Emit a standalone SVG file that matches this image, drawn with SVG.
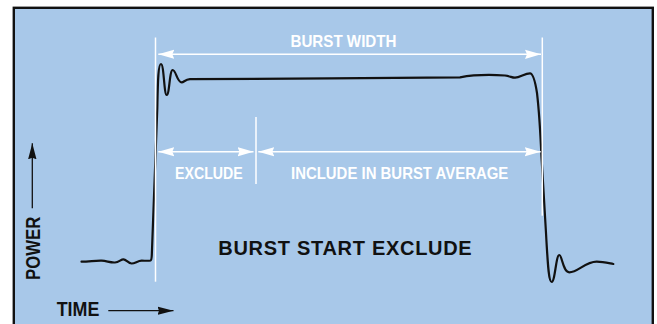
<svg xmlns="http://www.w3.org/2000/svg" width="657" height="324" viewBox="0 0 657 324">
<defs>
<style>
.ext{stroke:#fff;stroke-width:1.5;fill:none}
.dim{stroke:#fff;stroke-width:1.5;fill:none;marker-start:url(#wh);marker-end:url(#wh)}
.ax{stroke:#111;stroke-width:1.3;fill:none;marker-end:url(#bh)}
.wl{font-family:"Liberation Sans",Arial,sans-serif;font-weight:bold;fill:#fff;font-size:16.5px}
.bl{font-family:"Liberation Sans",Arial,sans-serif;font-weight:bold;fill:#111;font-size:20px}
.wave{stroke:#111;stroke-width:2.2;fill:none;stroke-linejoin:round;stroke-linecap:round}
</style>
<marker id="wh" viewBox="0 0 16 10" refX="16" refY="5" markerWidth="16" markerHeight="10" markerUnits="userSpaceOnUse" orient="auto-start-reverse">
<path d="M0,0.4 L16,5 L0,9.6 L2,5 z" fill="#fff"/>
</marker>
<marker id="bh" viewBox="0 0 16 10" refX="16" refY="5" markerWidth="16" markerHeight="10" markerUnits="userSpaceOnUse" orient="auto">
<path d="M0,0.8 L16,5 L0,9.2 L1.5,5 z" fill="#111"/>
</marker>
</defs>
<rect x="0" y="0" width="657" height="324" fill="#fff"/>
<g id="frame">
<rect x="13.8" y="7.8" width="639" height="340" fill="#A8C8E9" stroke="#111" stroke-width="2.4"/>
</g>
<g id="waveform">
<path class="wave" d="M81.5 261.7 C90 261.5 96 260.5 101.7 260.7 C107 261 110 262.8 115 262.5 C119 262.2 121 259.2 123.5 259.3 C126 259.4 128.5 263.6 131.7 263.5 C135 263.4 138 260.7 141.7 260.7 C145 260.7 149 261 150.5 260.5 C151.5 260 151.7 258 151.8 255 L157.3 108 C157.8 85 158 64 161 64 C164 64 164 95 166.7 95 C169.5 95 169.5 70 172.7 70 C176 70 177 82.3 181.7 82.3 C184 82.3 185 79.5 190 79.2 L330 78.3 L460 77.3 C470 75.5 490 74.5 505 75.5 C510 76 512 77.8 515 77.7 C520 77.5 525 73.3 530 73.3 C533 73.3 535 80 537 93 C539 110 540.5 135 541.5 157 L546 233 C548 270 549 282 551.7 282 C555 282 556 255 559.3 255 C562 255 563 272.3 569.3 272.3 C578 272.3 585 261.7 596.7 261.7 C603 261.7 608 263 613.3 264"/>
</g>
<g id="connectors">
<line class="ext" x1="155.5" y1="37.5" x2="155.5" y2="281.7"/>
<line class="ext" x1="542.3" y1="37.5" x2="542.3" y2="215.7"/>
<line class="ext" x1="256" y1="117" x2="256" y2="184"/>
<line class="dim" x1="158.3" y1="54.3" x2="541" y2="54.3"/>
<line class="dim" x1="158.3" y1="151.7" x2="253.5" y2="151.7"/>
<line class="dim" x1="258.3" y1="151.7" x2="540.7" y2="151.7"/>
<line class="ax" x1="32.3" y1="208.3" x2="32.3" y2="143.3"/>
<line class="ax" x1="108.3" y1="310.7" x2="173.5" y2="310.7"/>
</g>
<g id="labels">
<text class="wl" x="290.5" y="47.3" font-size="16" textLength="106" lengthAdjust="spacingAndGlyphs">BURST WIDTH</text>
<text class="wl" x="175" y="179.3" textLength="67.7" lengthAdjust="spacingAndGlyphs">EXCLUDE</text>
<text class="wl" x="291" y="179.3" textLength="217.3" lengthAdjust="spacingAndGlyphs">INCLUDE IN BURST AVERAGE</text>
<text class="bl" x="218.3" y="254.5" textLength="253.4" lengthAdjust="spacing">BURST START EXCLUDE</text>
<text class="bl" x="56.7" y="315.7" font-size="19.5" textLength="42.6" lengthAdjust="spacingAndGlyphs">TIME</text>
<text class="bl" transform="translate(40,280) rotate(-90)" x="0" y="0" textLength="63.3" lengthAdjust="spacingAndGlyphs">POWER</text>
</g>
</svg>
